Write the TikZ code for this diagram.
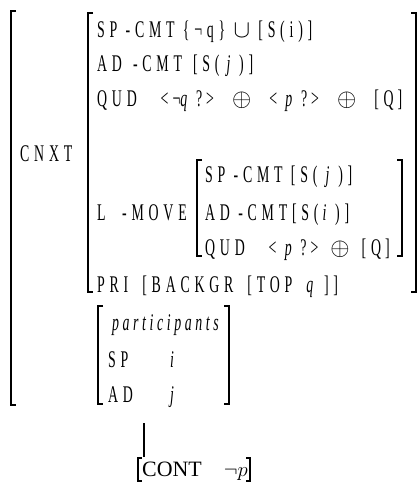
\documentclass[tikz,border=0pt]{standalone}
\usepackage{amssymb}
\usepackage{amsmath}
\usepackage{fontspec}
\setmainfont{Liberation Serif}
\newfontfamily\avmfont[FakeStretch=0.58,LetterSpace=20]{Liberation Serif}
\usepackage{tikz}

\begin{document}
\begin{tikzpicture}[x=1bp, y=-1bp,
    avm/.style={anchor=base west, inner sep=0pt, font={\avmfont\fontsize{24}{26}\selectfont}},
    brk/.style={line width=1.1pt}]
        \useasboundingbox (0,0) rectangle (419,482);

        \draw[brk] (16,11) -| (11,405) -- (16,405);
        \draw[brk] (93,13) -| (88,292) -- (93,292);
        \draw[brk] (411,13) -| (416,292) -- (411,292);
        \draw[brk] (202,160) -| (197,256) -- (202,256);
        \draw[brk] (397,160) -| (402,256) -- (397,256);
        \draw[brk] (103,306) -| (98,404) -- (103,404);
        \draw[brk] (224,306) -| (229,404) -- (224,404);

        \node[avm] (spcmt) at (97,38) {SP -CMT \{¬q\} $\cup$ [S(i)]};
        \node[avm] (adcmt) at (97,72) {AD\hspace{11bp}-CMT\hspace{11bp}[S(\hspace{7bp}\textit{j}\,)]};
        \node[avm] (qud) at (97,107) {QUD\quad<\,¬\textit{q}\,?\,>\hspace{18bp}$\oplus$\hspace{18bp}<\ \textit{p}\,?\,>\hspace{18bp}$\oplus$\hspace{18bp}[Q\,]};
        \node[avm] (cnxt) at (20,162) {CNXT};
        \node[avm] (lmove) at (97,220) {L\ \ -MOVE};
        \node[avm] (spcmt2) at (205,183) {SP -CMT\ [S(\ \textit{j}\,)]};
        \node[avm] (adcmt2) at (205,220) {AD\ -CMT[S(\,\textit{i}\,)]};
        \node[avm] (qud2) at (205,255) {QUD\quad<\ \textit{p}\,?\,>\enspace$\oplus$\enspace[Q\,]};
        \node[avm] (pri) at (97,292) {PRI\hspace{14bp}[BACKGR\hspace{14bp}[TOP\hspace{14bp}\textit{q}\hspace{6bp}]]};
        \node[avm] (parts) at (112,330) {\addfontfeature{LetterSpace=15}\textit{participants}};
        \node[avm] (sp) at (108,367) {SP};
        \node[avm] (spval) at (170,367) {\textit{i}};
        \node[avm] (ad) at (108,402) {AD};
        \node[avm] (adval) at (170,402) {\textit{j}};

        \node[anchor=base west, inner sep=0pt, font=\fontsize{22}{24}\selectfont] (cont) at (142,476) {CONT\quad$\neg p$};
        \draw[line width=1.6pt] (142,458) -| (138,481) -- (142,481);
        \draw[line width=1.6pt] (246,458) -| (250,481) -- (246,481);

        \coordinate (stem) at (144,423);
        \draw[brk] (stem) -- ([yshift=4bp]stem |- cont.north);
    \end{tikzpicture}
\end{document}
